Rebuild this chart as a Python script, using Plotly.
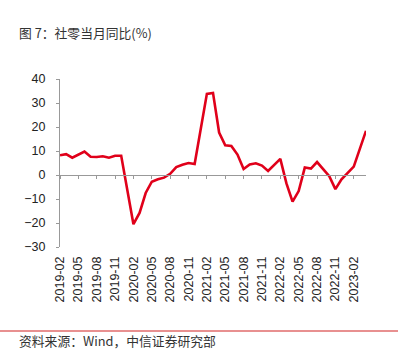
import plotly.graph_objects as go

months = [
    "2019-02", "2019-03", "2019-04", "2019-05", "2019-06", "2019-07", "2019-08", "2019-09", "2019-10", "2019-11", "2019-12",
    "2020-01", "2020-02", "2020-03", "2020-04", "2020-05", "2020-06", "2020-07", "2020-08", "2020-09", "2020-10", "2020-11", "2020-12",
    "2021-01", "2021-02", "2021-03", "2021-04", "2021-05", "2021-06", "2021-07", "2021-08", "2021-09", "2021-10", "2021-11", "2021-12",
    "2022-01", "2022-02", "2022-03", "2022-04", "2022-05", "2022-06", "2022-07", "2022-08", "2022-09", "2022-10", "2022-11", "2022-12",
    "2023-01", "2023-02", "2023-03", "2023-04",
]
retail_yoy = [
    8.2, 8.7, 7.2, 8.6, 9.8, 7.6, 7.5, 7.8, 7.2, 8.0, 8.0,
    None, -20.5, -15.8, -7.5, -2.8, -1.8, -1.1, 0.5, 3.3, 4.3, 5.0, 4.6,
    None, 33.8, 34.2, 17.7, 12.4, 12.1, 8.5, 2.5, 4.4, 4.9, 3.9, 1.7,
    None, 6.7, -3.5, -11.1, -6.7, 3.1, 2.7, 5.4, 2.5, -0.5, -5.9, -1.8,
    None, 3.5, 10.6, 18.4,
]
tick_labels = months[::3]
y_ticks = [-30, -20, -10, 0, 10, 20, 30, 40]

title_text = "图 7：社零当月同比(%)"
source_text = "资料来源：Wind，中信证券研究部"

W, H = 411, 364
ML, MR, MT, MB = 60, 45, 79, 117
PW, PH = W - ML - MR, H - MT - MB

fig = go.Figure()
# transparent copy for the bottom label axis
fig.add_trace(go.Scatter(x=months, y=retail_yoy, mode="lines", connectgaps=True,
                         line=dict(color="rgba(0,0,0,0)", width=0), hoverinfo="skip",
                         showlegend=False, xaxis="x", yaxis="y"))
fig.add_trace(go.Scatter(x=months, y=retail_yoy, mode="lines", connectgaps=True,
                         line=dict(color="#e0001a", width=2.6), showlegend=False,
                         xaxis="x2", yaxis="y"))

tick_font = dict(family="Liberation Sans, Arial, sans-serif", size=12.5, color="#222")
n = len(months)
fig.update_layout(
    width=W, height=H,
    margin=dict(l=ML, r=MR, t=MT, b=MB, pad=0),
    paper_bgcolor="white", plot_bgcolor="white",
    xaxis=dict(type="category", categoryorder="array", categoryarray=months,
               range=[0, n - 1], tickmode="array", tickvals=tick_labels, ticktext=tick_labels,
               tickangle=-90, ticks="", showline=False, showgrid=False, zeroline=False,
               tickfont=tick_font, ticklabelstandoff=6, automargin=False),
    xaxis2=dict(type="category", categoryorder="array", categoryarray=months,
                range=[0, n - 1], overlaying="x", anchor="free", position=30 / 70, side="bottom",
                tickmode="array", tickvals=tick_labels, showticklabels=False,
                ticks="outside", ticklen=3, tickcolor="#999", tickwidth=1,
                showline=True, linecolor="#999", linewidth=1, showgrid=False, zeroline=False,
                automargin=False),
    yaxis=dict(range=[-30, 40], tickmode="array", tickvals=y_ticks,
               ticks="outside", ticklen=3, tickcolor="#999", tickwidth=1,
               showline=True, linecolor="#999", linewidth=1, showgrid=False, zeroline=False,
               tickfont=tick_font, ticklabelstandoff=8, automargin=False),
    annotations=[
        dict(text=title_text, xref="paper", yref="paper", x=(17 - ML) / PW,
             y=1 + (MT - 32) / PH, xanchor="left", yanchor="middle", showarrow=False,
             font=dict(family="Noto Sans CJK SC", size=12.8, color="#333")),
        dict(text=source_text, xref="paper", yref="paper", x=(17 - ML) / PW,
             y=-(340 - (H - MB)) / PH, xanchor="left", yanchor="middle", showarrow=False,
             font=dict(family="Noto Sans CJK SC", size=12.8, color="#333")),
    ],
    shapes=[
        dict(type="line", xref="paper", yref="paper",
             x0=-ML / PW, x1=(398 - ML) / PW,
             y0=-(331 - (H - MB)) / PH, y1=-(331 - (H - MB)) / PH,
             line=dict(color="#e06b6b", width=1.5)),
    ],
)

fig.write_html("out.html", config={"displayModeBar": False},
               post_script="document.body.style.margin='0';document.body.style.padding='0';")
